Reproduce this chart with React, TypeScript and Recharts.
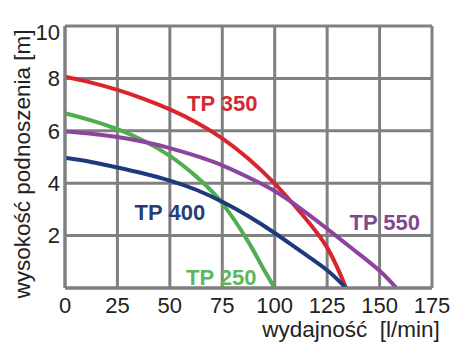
import { CartesianGrid, Line, LineChart, ReferenceDot, XAxis, YAxis } from "recharts";

// flow [l/min] and head [m]
const flow350 = [0, 12.5, 25, 37.5, 50, 62.5, 75, 87.5, 100, 112.5, 125, 134];
const head350 = [8.06, 7.84, 7.56, 7.22, 6.82, 6.33, 5.71, 4.93, 3.98, 2.86, 1.54, 0];

const flow250 = [0, 12.5, 25, 37.5, 50, 62.5, 75, 87.5, 94, 100];
const head250 = [6.67, 6.4, 6.06, 5.62, 5.04, 4.26, 3.23, 1.75, 0.82, 0];

const flow400 = [0, 12.5, 25, 37.5, 50, 62.5, 75, 87.5, 100, 112.5, 125, 134];
const head400 = [4.97, 4.81, 4.6, 4.37, 4.1, 3.75, 3.29, 2.74, 2.1, 1.4, 0.68, 0];

const flow550 = [0, 12.5, 25, 37.5, 50, 62.5, 75, 87.5, 100, 112.5, 125, 137.5, 150, 158];
const head550 = [5.97, 5.89, 5.76, 5.58, 5.34, 5.04, 4.68, 4.22, 3.7, 3.02, 2.26, 1.47, 0.66, 0];

const xTicks = [0, 25, 50, 75, 100, 125, 150, 175];
const yTicks = [2, 4, 6, 8, 10];

const toPoints = (xs: number[], ys: number[]) => xs.map((x, i) => ({ x, y: ys[i] }));

const series = [
  { name: "TP 350", data: toPoints(flow350, head350), color: "#d9262e", text: "#d12a36", lx: 75, ly: 7.05 },
  { name: "TP 250", data: toPoints(flow250, head250), color: "#4fae4f", text: "#5cb85c", lx: 74.5, ly: 0.42 },
  { name: "TP 400", data: toPoints(flow400, head400), color: "#1f3a7c", text: "#263e78", lx: 50, ly: 2.9 },
  { name: "TP 550", data: toPoints(flow550, head550), color: "#8e449f", text: "#7e4a8e", lx: 152.5, ly: 2.5 },
];

const font = '"Liberation Sans", Arial, sans-serif';
const grid = "#808080";

function YTick(props: any) {
  const { x, y, payload } = props;
  // the top label sits a little lower in the original
  const shift = payload.value === 10 ? 6 : 0;
  return (
    <text x={x} y={y + shift} dy="0.355em" textAnchor="end" fill="#222" fontSize={22} fontFamily={font}>
      {payload.value}
    </text>
  );
}

export default function App() {
  return (
    <div style={{ position: "absolute", left: 0, top: 0, fontFamily: font }}>
      <LineChart width={463} height={355} margin={{ top: 26, right: 31, bottom: 37, left: 20 }}>
        <CartesianGrid stroke={grid} strokeWidth={3} />
        <XAxis
          dataKey="x"
          type="number"
          domain={[0, 175]}
          ticks={xTicks}
          allowDuplicatedCategory={false}
          height={30}
          tickLine={false}
          tickSize={0}
          tickMargin={9}
          axisLine={{ stroke: grid, strokeWidth: 3 }}
          tick={{ fill: "#222", fontSize: 22, fontFamily: font }}
        />
        <YAxis
          dataKey="y"
          type="number"
          domain={[0, 10]}
          ticks={yTicks}
          width={45}
          tickLine={false}
          tickSize={0}
          tickMargin={5}
          axisLine={{ stroke: grid, strokeWidth: 3 }}
          tick={<YTick />}
        />
        {series.map((s) => (
          <Line
            key={s.name}
            data={s.data}
            dataKey="y"
            type="natural"
            stroke={s.color}
            strokeWidth={4}
            dot={false}
            isAnimationActive={false}
          />
        ))}
        {series.map((s) => (
          <ReferenceDot
            key={s.name + "-label"}
            x={s.lx}
            y={s.ly}
            r={0}
            fill="none"
            stroke="none"
            label={{
              value: s.name,
              position: "center",
              fill: s.text,
              fontSize: 22,
              fontWeight: "bold",
              fontFamily: font,
            }}
          />
        ))}
        <text
          x={22}
          y={164}
          transform="rotate(-90 22 164)"
          textAnchor="middle"
          dy="0.35em"
          fontSize={22.5}
          fill="#222"
          fontFamily={font}
        >
          wysokość podnoszenia [m]
        </text>
        <text x={351} y={337} textAnchor="middle" fontSize={22.5} fill="#222" fontFamily={font}>
          {"wydajność\u00a0\u00a0[l/min]"}
        </text>
      </LineChart>
    </div>
  );
}
